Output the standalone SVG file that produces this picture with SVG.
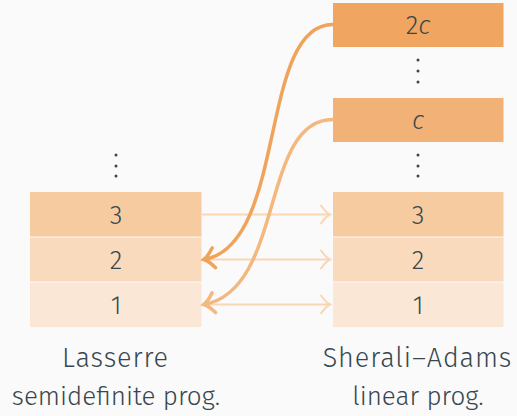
<svg xmlns="http://www.w3.org/2000/svg" width="517" height="416" viewBox="0 0 517 416">
  <style>
    .lbl { font-family: "Fira Sans", "Open Sans", "Liberation Sans", sans-serif; font-weight: 300; fill: #37474f; text-anchor: middle; }
    .num { font-size: 26px; }
    .cap { font-size: 27px; letter-spacing: 0.9px; }
    .sub { font-size: 26px; }
    .dot { fill: #37474f; }
    .sep { stroke: #fafafa; stroke-width: 1.2; }
    .thin { fill: none; stroke: #f9d6b4; stroke-width: 2; }
    .lift1 { fill: none; stroke: #f0a35a; stroke-width: 3.5; stroke-linecap: round; }
    .lift2 { fill: none; stroke: #f4b87f; stroke-width: 3.5; stroke-linecap: round; }
  </style>
  <defs>
    <marker id="headThin" markerUnits="userSpaceOnUse" markerWidth="20" markerHeight="24" refX="12" refY="12" orient="auto">
      <path d="M3,3 Q8,10 12,12 Q8,14 3,21" fill="none" stroke="#f9d6b4" stroke-width="2" stroke-linecap="round"/>
    </marker>
    <marker id="head1" markerUnits="userSpaceOnUse" markerWidth="22" markerHeight="26" refX="13" refY="13" orient="auto">
      <path d="M3,3 Q9,11 13,13 Q9,15 3,23" fill="none" stroke="#f0a35a" stroke-width="3.5" stroke-linecap="round"/>
    </marker>
    <marker id="head2" markerUnits="userSpaceOnUse" markerWidth="22" markerHeight="26" refX="13" refY="13" orient="auto">
      <path d="M3,3 Q9,11 13,13 Q9,15 3,23" fill="none" stroke="#f4b87f" stroke-width="3.5" stroke-linecap="round"/>
    </marker>
  </defs>

  <rect width="517" height="416" fill="#fafafa"/>

  <!-- Lasserre hierarchy levels -->
  <g id="lasserre">
    <circle class="dot" cx="116" cy="155" r="1.5"/>
    <circle class="dot" cx="116" cy="166" r="1.5"/>
    <circle class="dot" cx="116" cy="176" r="1.5"/>
    <g id="L3"><rect x="30" y="192" width="171.5" height="45" fill="#f7cba0"/><text class="lbl num" x="116" y="223.5">3</text></g>
    <g id="L2"><rect x="30" y="237" width="171.5" height="45" fill="#f9dabd"/><text class="lbl num" x="116" y="268.5">2</text></g>
    <g id="L1"><rect x="30" y="282" width="171.5" height="45" fill="#fbe7d6"/><text class="lbl num" x="116" y="313.5">1</text></g>
    <line class="sep" x1="30" y1="237" x2="201.5" y2="237"/>
    <line class="sep" x1="30" y1="282" x2="201.5" y2="282"/>
    <text class="lbl cap" x="115.5" y="366.5">Lasserre</text>
    <text class="lbl sub" x="116" y="404.5">semidefinite prog.</text>
  </g>

  <!-- Sherali–Adams hierarchy levels -->
  <g id="sherali-adams">
    <g id="S2c"><rect x="333" y="3" width="170.5" height="44" fill="#f0a660"/><text class="lbl num" x="418" y="33.5">2<tspan font-style="italic">c</tspan></text></g>
    <circle class="dot" cx="418" cy="60" r="1.5"/>
    <circle class="dot" cx="418" cy="71" r="1.5"/>
    <circle class="dot" cx="418" cy="82" r="1.5"/>
    <g id="Sc"><rect x="333" y="98" width="170.5" height="44" fill="#f2b277"/><text class="lbl num" x="418" y="128.5" font-style="italic">c</text></g>
    <circle class="dot" cx="418" cy="155" r="1.5"/>
    <circle class="dot" cx="418" cy="166" r="1.5"/>
    <circle class="dot" cx="418" cy="176" r="1.5"/>
    <g id="S3"><rect x="333" y="192" width="170.5" height="45" fill="#f7cba0"/><text class="lbl num" x="418" y="223.5">3</text></g>
    <g id="S2"><rect x="333" y="237" width="170.5" height="45" fill="#f9dabd"/><text class="lbl num" x="418" y="268.5">2</text></g>
    <g id="S1"><rect x="333" y="282" width="170.5" height="45" fill="#fbe7d6"/><text class="lbl num" x="418" y="313.5">1</text></g>
    <line class="sep" x1="333" y1="237" x2="503.5" y2="237"/>
    <line class="sep" x1="333" y1="282" x2="503.5" y2="282"/>
    <text class="lbl cap" x="417.5" y="366.5">Sherali–Adams</text>
    <text class="lbl sub" x="418" y="404.5">linear prog.</text>
  </g>

  <!-- connectors -->
  <g id="connectors">
    <path class="thin" d="M202,214.5 H330" marker-end="url(#headThin)"/>
    <path class="thin" d="M202,259.5 H330" marker-end="url(#headThin)"/>
    <path class="thin" d="M202,304.5 H330" marker-end="url(#headThin)"/>
    <path class="lift1" d="M333,24.5 C258,24 288,245 204,259.5" marker-end="url(#head1)"/>
    <path class="lift2" d="M333,119.5 C260,119 285,290 204,304.5" marker-end="url(#head2)"/>
  </g>
</svg>
